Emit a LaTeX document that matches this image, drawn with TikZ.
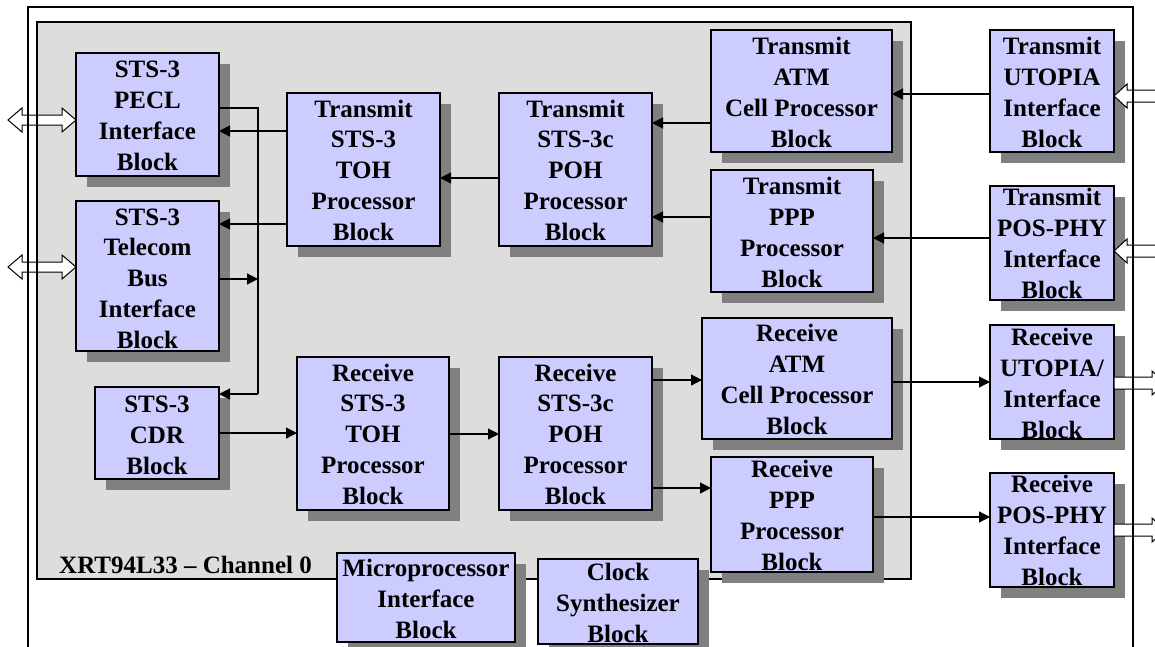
\documentclass[tikz,border=0pt]{standalone}
\usepackage{fontspec}
\setmainfont{Liberation Serif}
\usetikzlibrary{shadows,arrows.meta}
\definecolor{boxfill}{HTML}{CCCCFF}
\definecolor{panelfill}{HTML}{DDDDDD}
\definecolor{shadowgray}{HTML}{808080}
\tikzset{
 blk/.style={draw=black, line width=1.5pt, fill=boxfill, rectangle, inner sep=0pt, outer sep=0pt,
   drop shadow={shadow xshift=10.5pt, shadow yshift=-10.5pt, fill=shadowgray, opacity=1}},
 txt/.style={font=\fontsize{25}{30.7}\selectfont\bfseries, align=center, inner sep=0pt, anchor=base},
 conn/.style={line width=1.2pt, -{Triangle[length=11pt,width=11pt]}},
 wire/.style={line width=1.2pt},
 hollow/.style={draw=black, line width=1pt, fill=white},
 frame/.style={line width=1.2pt},
}
% #7 = baseline of the last text line
\newcommand\mkbox[7]{%
 \node[blk, minimum width={(#4-#2)*1pt}, minimum height={(#5-#3)*1pt}] (#1) at ({(#2+#4)/2},{(#3+#5)/2}) {};
 \node[txt] (#1t) at ({(#2+#4)/2},#7) {#6};}
\begin{document}
\begin{tikzpicture}[x=1pt,y=-1pt]
\useasboundingbox (0,0) rectangle (1155,646);
\fill[white] (0,0) rectangle (1155,646);
\clip (0,0) rectangle (1155,646);
% outer frame
\draw[frame] (28,660) -- (28,7) -- (1133,7) -- (1133,660);
% channel panel
\draw[frame, fill=panelfill] (37,22) rectangle (911,579);
\node[font=\fontsize{25}{30.7}\selectfont\bfseries, anchor=base west, inner sep=0pt] (chlabel) at (59,573) {XRT94L33 – Channel 0};
% blocks
\mkbox{pecl}{76}{53}{219}{176}{STS-3\\PECL\\Interface\\Block}{170}
\mkbox{telecom}{76}{201}{219}{351}{STS-3\\Telecom\\Bus\\Interface\\Block}{348}
\mkbox{cdr}{95}{387}{219}{479}{STS-3\\CDR\\Block}{474}
\mkbox{txtoh}{287}{93}{440}{246}{Transmit\\STS-3\\TOH\\Processor\\Block}{240}
\mkbox{txpoh}{499}{93}{652}{246}{Transmit\\STS-3c\\POH\\Processor\\Block}{240}
\mkbox{txatm}{711}{30}{892}{152}{Transmit\\ATM\\Cell Processor\\Block}{147}
\mkbox{txppp}{711}{170}{873}{292}{Transmit\\PPP\\Processor\\Block}{287}
\mkbox{txutopia}{990}{30}{1114}{152}{Transmit\\UTOPIA\\Interface\\Block}{147}
\mkbox{txpos}{990}{186}{1114}{300}{Transmit\\POS-PHY\\Interface\\Block}{298}
\mkbox{rxtoh}{297}{357}{449}{510}{Receive\\STS-3\\TOH\\Processor\\Block}{504}
\mkbox{rxpoh}{499}{357}{652}{510}{Receive\\STS-3c\\POH\\Processor\\Block}{504}
\mkbox{rxatm}{702}{318}{892}{439}{Receive\\ATM\\Cell Processor\\Block}{434}
\mkbox{rxppp}{711}{457}{873}{572}{Receive\\PPP\\Processor\\Block}{570}
\mkbox{rxutopia}{990}{325}{1114}{439}{Receive\\UTOPIA/\\Interface\\Block}{438}
\mkbox{rxpos}{990}{473}{1114}{587}{Receive\\POS-PHY\\Interface\\Block}{585}
\mkbox{micro}{337}{553}{515}{642}{Microprocessor\\Interface\\Block}{638}
\mkbox{clock}{538}{559}{698}{644}{Clock\\Synthesizer\\Block}{642}
% connectors
\coordinate (bustop) at (258,108);
\coordinate (busbot) at (258,394);
\coordinate (busj) at (258,279);
\draw[wire] (pecl.east |- bustop) -- (bustop) -- (busbot);
\draw[conn] (busbot) -- (cdr.east |- busbot);
\draw[conn] (telecom.east |- busj) -- (busj);
\draw[conn] (txtoh.west |- 0,131) -- (pecl.east |- 0,131);
\draw[conn] (txtoh.west |- 0,224) -- (telecom.east |- 0,224);
\draw[conn] (txpoh.west |- 0,178) -- (txtoh.east |- 0,178);
\draw[conn] (txatm.west |- 0,123) -- (txpoh.east |- 0,123);
\draw[conn] (txppp.west |- 0,217) -- (txpoh.east |- 0,217);
\draw[conn] (txutopia.west |- 0,94) -- (txatm.east |- 0,94);
\draw[conn] (txpos.west |- 0,238) -- (txppp.east |- 0,238);
\draw[conn] (cdr.east |- 0,433) -- (rxtoh.west |- 0,433);
\draw[conn] (rxtoh.east |- 0,434) -- (rxpoh.west |- 0,434);
\draw[conn] (rxpoh.east |- 0,380) -- (rxatm.west |- 0,380);
\draw[conn] (rxpoh.east |- 0,488) -- (rxppp.west |- 0,488);
\draw[conn] (rxatm.east |- 0,382) -- (rxutopia.west |- 0,382);
\draw[conn] (rxppp.east |- 0,517) -- (rxpos.west |- 0,517);
% hollow interface arrows
\draw[hollow] (pecl.west |- 0,120) -- ++(-14,-12) -- ++(0,7) -- ++(-40,0) -- ++(0,-7) -- ++(-14,12) -- ++(14,12) -- ++(0,-7) -- ++(40,0) -- ++(0,7) -- cycle;
\draw[hollow] (telecom.west |- 0,267) -- ++(-14,-12) -- ++(0,7) -- ++(-40,0) -- ++(0,-7) -- ++(-14,12) -- ++(14,12) -- ++(0,-7) -- ++(40,0) -- ++(0,7) -- cycle;
\draw[hollow] (txutopia.east |- 0,96) -- ++(13,-12) -- ++(0,6) -- ++(45,0) -- ++(0,12) -- ++(-45,0) -- ++(0,6) -- cycle;
\draw[hollow] (txpos.east |- 0,251) -- ++(13,-12) -- ++(0,6) -- ++(45,0) -- ++(0,12) -- ++(-45,0) -- ++(0,6) -- cycle;
\draw[hollow] (rxutopia.east |- 0,383) -- ++(0,-6) -- ++(38,0) -- ++(0,-6) -- ++(13,12) -- ++(-13,12) -- ++(0,-6) -- ++(-38,0) -- cycle;
\draw[hollow] (rxpos.east |- 0,530) -- ++(0,-6) -- ++(38,0) -- ++(0,-6) -- ++(13,12) -- ++(-13,12) -- ++(0,-6) -- ++(-38,0) -- cycle;
% frame lines visible through the hollow arrows
\draw[frame] (28,660) -- (28,7) -- (1133,7) -- (1133,660);
\draw[frame] (37,22) -- (37,579);
\end{tikzpicture}
\end{document}
